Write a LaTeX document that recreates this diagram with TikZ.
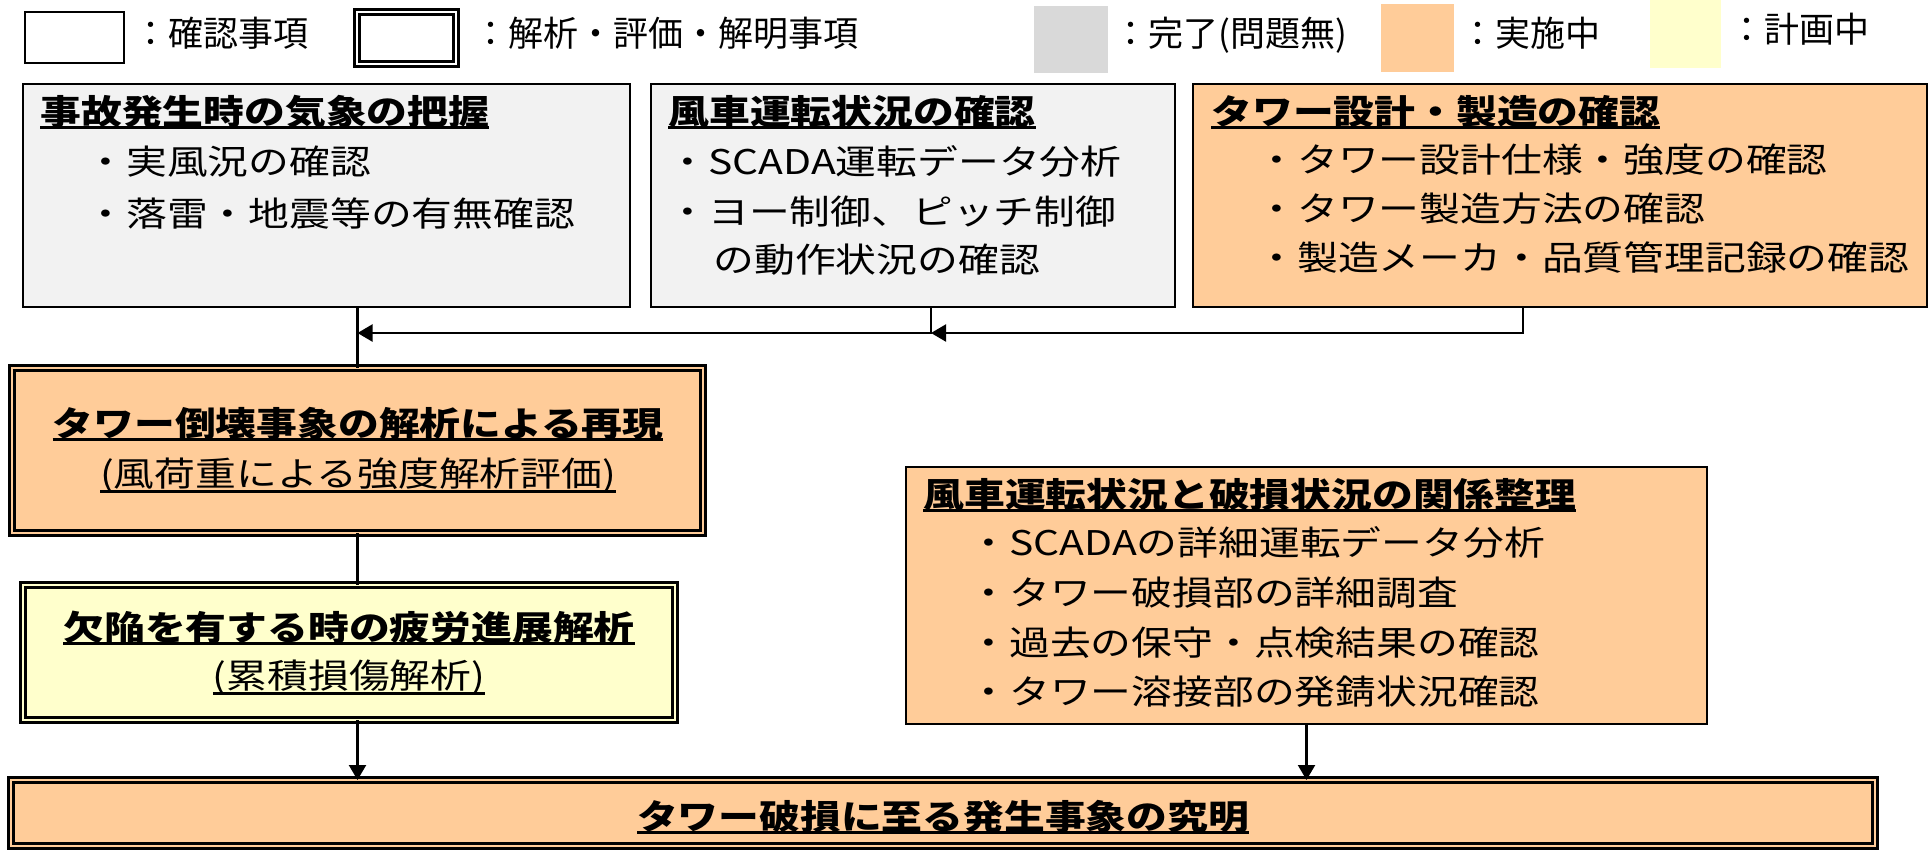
\documentclass[tikz,border=0pt]{standalone}
\usepackage{fontspec}
\setmainfont{Noto Sans CJK JP}
\newfontfamily\jpw[FakeStretch=1.2]{Noto Sans CJK JP}
\usetikzlibrary{arrows.meta,fit,calc}
\definecolor{donegray}{HTML}{F2F2F2}
\definecolor{leggray}{HTML}{D9D9D9}
\definecolor{progor}{HTML}{FFCC99}
\definecolor{planyel}{HTML}{FFFFCC}
\newcommand\ulx[1]{\sbox0{#1}\rlap{\usebox0}\rule[-2.3pt]{\wd0}{1.4pt}}
\newcommand\ulsub[1]{\sbox0{#1}\rlap{\usebox0}\rule[-3.4pt]{\wd0}{1.2pt}}
\begin{document}
\begin{tikzpicture}[x=0.5pt,y=-0.5pt,
  box/.style={draw=black,line width=1pt,inner sep=0pt,outer sep=0pt},
  dbox/.style={draw=black,line width=1.35pt,double distance=1.1pt,inner sep=0pt,outer sep=0pt},
  swatch/.style={draw=none,inner sep=0pt,outer sep=0pt},
  ttl/.style={font=\jpw\bfseries\fontsize{17pt}{20pt}\selectfont,inner sep=0pt,anchor=base west},
  ttlc/.style={ttl,anchor=base},
  itm/.style={font=\jpw\fontsize{17pt}{20pt}\selectfont,inner sep=0pt,anchor=base west},
  itmc/.style={itm,anchor=base},
  lgt/.style={font=\fontsize{17.5pt}{20pt}\selectfont,inner sep=0pt,anchor=base west},
  conn/.style={draw=black,line width=1.1pt},
  arr/.style={conn,-{Triangle[length=7.5pt,width=8.5pt]}}]
\fill[white] (0,0) rectangle (1930,852);
\useasboundingbox (0,0) rectangle (1930,852);
% legend
\node[box,fill=white,fit={(25,12) (124,63)}] (lg1) {};
\node[lgt] (lt1) at (133,46) {：確認事項};
\node[dbox,fill=white,double=white,fit={(357,12) (456,64)}] (lg2) {};
\node[lgt] (lt2) at (473,46) {：解析・評価・解明事項};
\node[swatch,fill=leggray,fit={(1034,6) (1108,73)}] (lg3) {};
\node[lgt] (lt3) at (1113,46) {：完了(問題無)};
\node[swatch,fill=progor,fit={(1381,4) (1454,72)}] (lg4) {};
\node[lgt] (lt4) at (1460,46) {：実施中};
\node[swatch,fill=planyel,fit={(1650,0) (1721,68)}] (lg5) {};
\node[lgt] (lt5) at (1729,42) {：計画中};
% top boxes
\node[box,fill=donegray,fit={(23,84) (630,307)}] (b1) {};
\node[ttl] (b1t) at (40,124) {\ulx{事故発生時の気象の把握}};
\node[itm] (b1a) at (85,174) {・実風況の確認};
\node[itm] (b1b) at (85,226) {・落雷・地震等の有無確認};
\node[box,fill=donegray,fit={(651,84) (1175,307)}] (b2) {};
\node[ttl] (b2t) at (668,124) {\ulx{風車運転状況の確認}};
\node[itm] (b2a) at (667,174) {・SCADA運転データ分析};
\node[itm] (b2b) at (667,224) {・ヨー制御、ピッチ制御};
\node[itm] (b2c) at (713,272) {の動作状況の確認};
\node[box,fill=progor,fit={(1193,84) (1927,307)}] (b3) {};
\node[ttl] (b3t) at (1211,124) {\ulx{タワー設計・製造の確認}};
\node[itm] (b3a) at (1256,172) {・タワー設計仕様・強度の確認};
\node[itm] (b3b) at (1256,221) {・タワー製造方法の確認};
\node[itm] (b3c) at (1256,270) {・製造メーカ・品質管理記録の確認};
% middle
\node[dbox,fill=progor,double=progor,fit={(12,368) (703,533)}] (b4) {};
\node[ttlc] (b4t) at (358,436) {\ulx{タワー倒壊事象の解析による再現}};
\node[itmc] (b4s) at (358,486) {\ulsub{(風荷重による強度解析評価)}};
\node[box,fill=progor,fit={(906,467) (1707,724)}] (b5) {};
\node[ttl] (b5t) at (923,507) {\ulx{風車運転状況と破損状況の関係整理}};
\node[itm] (b5a) at (968,555) {・SCADAの詳細運転データ分析};
\node[itm] (b5b) at (968,605) {・タワー破損部の詳細調査};
\node[itm] (b5c) at (968,655) {・過去の保守・点検結果の確認};
\node[itm] (b5d) at (968,704) {・タワー溶接部の発錆状況確認};
\node[dbox,fill=planyel,double=planyel,fit={(23,585) (675,720)}] (b6) {};
\node[ttlc] (b6t) at (349,640) {\ulx{欠陥を有する時の疲労進展解析}};
\node[itmc] (b6s) at (349,688) {\ulsub{(累積損傷解析)}};
% bottom
\node[dbox,fill=progor,double=progor,fit={(11,780) (1875,846)}] (b7) {};
\node[ttlc] (b7t) at (943,829) {\ulx{タワー破損に至る発生事象の究明}};
% connectors
\coordinate (j2) at (931,333);
\coordinate (j3) at (1523,333);
\draw[conn] (b1.south -| b4.north) -- (b4.north);
\draw[arr] (b2.south -| j2) -- (j2) -- (j2 -| b4.north);
\draw[arr] (b3.south -| j3) -- (j3) -- (j2);
\draw[conn] (b4.south) -- (b4.south |- b6.north);
\draw[arr] (b4.south |- b6.south) -- (b4.south |- b7.north);
\draw[arr] (b5.south) -- (b5.south |- b7.north);
\end{tikzpicture}
\end{document}
